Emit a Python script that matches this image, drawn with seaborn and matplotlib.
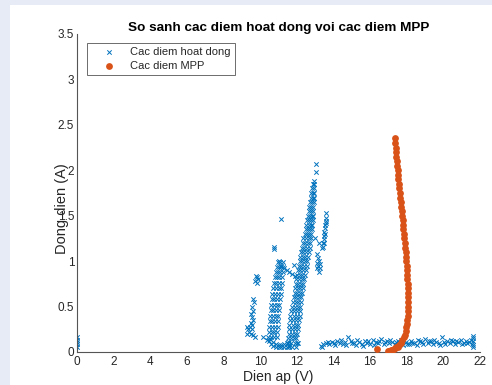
import matplotlib
matplotlib.use("Agg")
import matplotlib.pyplot as plt
import seaborn as sns
import pandas as pd
from matplotlib.patches import Rectangle

# ---------------- data ----------------
title = "So sanh cac diem hoat dong voi cac diem MPP"
xlabel = "Dien ap (V)"
ylabel = "Dong dien (A)"
label_op = "Cac diem hoat dong"
label_mpp = "Cac diem MPP"
xticks = [0, 2, 4, 6, 8, 10, 12, 14, 16, 18, 20, 22]
yticks = [0, 0.5, 1, 1.5, 2, 2.5, 3, 3.5]
ytick_labels = ["0", "0.5", "1", "1.5", "2", "2.5", "3", "3.5"]

# operating points, grouped by cluster
op_zero = [(0, 0.06), (0, 0.09), (0, 0.11), (0, 0.13), (0, 0.16)]

op_left_scatter = [(9.75, 0.84), (9.85, 0.82), (9.7, 0.78), (9.8, 0.76), (9.9, 0.8),
                   (9.6, 0.58), (9.65, 0.55), (9.55, 0.5), (9.6, 0.45), (9.5, 0.42),
                   (9.55, 0.38), (9.62, 0.35), (9.5, 0.32), (9.58, 0.3), (9.45, 0.27),
                   (9.35, 0.25), (9.4, 0.22), (9.3, 0.2), (9.5, 0.2), (9.6, 0.19),
                   (9.7, 0.17), (9.3, 0.28), (9.55, 0.25), (10.18, 0.17), (10.36, 0.13)]

op_left_arm = [(10.45, 0.16), (10.6, 0.16), (10.75, 0.16), (10.9, 0.16),
               (10.46, 0.22), (10.62, 0.22), (10.78, 0.22), (10.92, 0.22),
               (10.5, 0.28), (10.65, 0.28), (10.8, 0.28), (10.95, 0.28),
               (10.52, 0.34), (10.67, 0.34), (10.82, 0.34), (10.97, 0.34),
               (10.55, 0.40), (10.7, 0.40), (10.85, 0.40), (10.98, 0.40),
               (10.58, 0.46), (10.72, 0.46), (10.87, 0.46), (11.0, 0.46),
               (10.6, 0.52), (10.75, 0.52), (10.9, 0.52), (11.05, 0.52),
               (10.63, 0.58), (10.78, 0.58), (10.93, 0.58), (11.08, 0.58),
               (10.66, 0.64), (10.8, 0.64), (10.95, 0.64), (11.12, 0.64),
               (10.7, 0.70), (10.85, 0.70), (11.0, 0.70), (11.15, 0.70),
               (10.74, 0.76), (10.88, 0.76), (11.02, 0.76), (11.18, 0.76),
               (10.8, 0.82), (10.92, 0.82), (11.05, 0.82), (11.2, 0.82),
               (10.85, 0.88), (10.97, 0.88), (11.1, 0.88), (11.22, 0.88),
               (10.9, 0.94), (11.02, 0.94), (11.15, 0.94), (11.25, 0.94),
               (10.95, 0.99), (11.1, 0.99), (11.22, 0.99)]

op_u_bottom = [(10.5, 0.12), (10.6, 0.09), (10.7, 0.07), (10.85, 0.06), (11.0, 0.05),
               (11.15, 0.05), (11.3, 0.05), (11.45, 0.06), (11.6, 0.07),
               (10.55, 0.14), (10.7, 0.11), (10.85, 0.09), (11.0, 0.08), (11.15, 0.08),
               (11.3, 0.09), (11.45, 0.1), (11.6, 0.11), (12.08, 0.1)]

op_right_arm = [(11.55, 0.06), (11.75, 0.06), (11.95, 0.06),
                (11.5, 0.10), (11.7, 0.10), (11.88, 0.10), (12.0, 0.10),
                (11.5, 0.15), (11.68, 0.15), (11.85, 0.15), (11.98, 0.15),
                (11.55, 0.20), (11.72, 0.20), (11.88, 0.20), (12.02, 0.20),
                (11.58, 0.25), (11.75, 0.25), (11.9, 0.25), (12.05, 0.25),
                (11.6, 0.30), (11.78, 0.30), (11.95, 0.30), (12.08, 0.30),
                (11.62, 0.35), (11.8, 0.35), (11.97, 0.35), (12.12, 0.35),
                (11.65, 0.40), (11.83, 0.40), (12.0, 0.40), (12.15, 0.40),
                (11.7, 0.45), (11.87, 0.45), (12.02, 0.45), (12.18, 0.45),
                (11.75, 0.50), (11.9, 0.50), (12.05, 0.50), (12.2, 0.50),
                (11.8, 0.55), (11.95, 0.55), (12.08, 0.55), (12.22, 0.55),
                (11.85, 0.60), (11.98, 0.60), (12.12, 0.60), (12.25, 0.60),
                (11.88, 0.65), (12.02, 0.65), (12.15, 0.65), (12.28, 0.65),
                (11.9, 0.70), (12.05, 0.70), (12.2, 0.70), (12.32, 0.70),
                (11.95, 0.75), (12.08, 0.75), (12.22, 0.75), (12.36, 0.75),
                (11.98, 0.80), (12.12, 0.80), (12.26, 0.80), (12.4, 0.80),
                (12.0, 0.85), (12.15, 0.85), (12.3, 0.85), (12.45, 0.85),
                (12.05, 0.90), (12.2, 0.90), (12.34, 0.90), (12.5, 0.90),
                (12.1, 0.95), (12.24, 0.95), (12.38, 0.95), (12.55, 0.95),
                (12.15, 1.00), (12.28, 1.00), (12.42, 1.00), (12.58, 1.00),
                (12.2, 1.05), (12.32, 1.05), (12.46, 1.05), (12.62, 1.05),
                (12.25, 1.10), (12.36, 1.10), (12.5, 1.10), (12.66, 1.10),
                (12.28, 1.15), (12.4, 1.15), (12.55, 1.15), (12.7, 1.15),
                (12.32, 1.20), (12.45, 1.20), (12.6, 1.20), (12.74, 1.20),
                (12.36, 1.25), (12.5, 1.25), (12.64, 1.25), (12.78, 1.25),
                (12.42, 1.30), (12.55, 1.30), (12.68, 1.30), (12.8, 1.30),
                (12.48, 1.35), (12.6, 1.35), (12.72, 1.35), (12.82, 1.35),
                (12.52, 1.40), (12.64, 1.40), (12.76, 1.40), (12.85, 1.40),
                (12.56, 1.45), (12.68, 1.45), (12.8, 1.45), (12.87, 1.45),
                (12.6, 1.50), (12.72, 1.50), (12.83, 1.50), (12.9, 1.50),
                (12.64, 1.55), (12.76, 1.55), (12.86, 1.55),
                (12.68, 1.60), (12.8, 1.60), (12.9, 1.60),
                (12.72, 1.65), (12.83, 1.65), (12.92, 1.65),
                (12.76, 1.70), (12.86, 1.70), (12.94, 1.70),
                (12.8, 1.75), (12.89, 1.75), (12.95, 1.75),
                (12.84, 1.80), (12.92, 1.80),
                (12.88, 1.85), (12.95, 1.85), (12.92, 1.88)]

op_outliers = [(13.06, 2.07), (13.02, 1.98), (11.15, 1.46), (10.75, 1.16), (10.78, 1.13),
               (11.3, 0.92), (11.45, 0.9), (11.6, 0.88), (11.75, 0.86), (11.86, 0.96),
               (11.9, 0.84), (11.15, 0.95), (11.0, 1.0),
               (13.0, 1.26), (13.19, 1.2), (13.37, 1.15),
               (13.1, 1.08), (13.15, 1.04), (13.2, 1.0), (13.12, 0.98), (13.18, 0.95),
               (13.25, 0.92), (13.22, 0.88), (13.1, 0.93), (13.28, 0.97)]

op_streak = [(13.62, 1.53), (13.6, 1.48), (13.58, 1.44), (13.55, 1.4), (13.52, 1.36),
             (13.5, 1.32), (13.48, 1.28), (13.46, 1.24), (13.45, 1.2), (13.44, 1.16),
             (13.6, 1.42), (13.55, 1.3), (13.5, 1.2)]

op_band = [(13.3, 0.07), (13.45, 0.09), (13.6, 0.1), (13.75, 0.09), (13.9, 0.11),
           (14.05, 0.1), (14.2, 0.12), (14.35, 0.1), (14.5, 0.09), (14.65, 0.11),
           (14.8, 0.16), (14.95, 0.12), (15.1, 0.1), (15.25, 0.08), (15.4, 0.11),
           (15.55, 0.09), (15.7, 0.12), (15.85, 0.1), (16.0, 0.09), (16.15, 0.13),
           (16.3, 0.11), (16.45, 0.1), (16.6, 0.14), (16.75, 0.09), (16.9, 0.12),
           (17.05, 0.1), (17.2, 0.11), (17.35, 0.09), (17.5, 0.12), (17.65, 0.1),
           (17.8, 0.08), (17.95, 0.11), (18.1, 0.09), (18.25, 0.12), (18.4, 0.1),
           (18.55, 0.08), (18.7, 0.12), (18.85, 0.11), (19.0, 0.14), (19.15, 0.1),
           (19.3, 0.12), (19.45, 0.09), (19.6, 0.11), (19.75, 0.1), (19.9, 0.16),
           (20.05, 0.11), (20.2, 0.12), (20.35, 0.1), (20.5, 0.12), (20.65, 0.09),
           (20.8, 0.11), (20.95, 0.13), (21.1, 0.1), (21.25, 0.12), (21.4, 0.11),
           (21.55, 0.09), (21.6, 0.05), (21.6, 0.08), (21.6, 0.12), (21.6, 0.15),
           (21.6, 0.18),
           (13.4, 0.06), (13.7, 0.11), (14.1, 0.08), (14.4, 0.13), (14.7, 0.08),
           (15.0, 0.1), (15.3, 0.13), (15.6, 0.07), (15.9, 0.12), (16.2, 0.08),
           (16.5, 0.12), (16.8, 0.11), (17.1, 0.13), (17.4, 0.11), (17.7, 0.13),
           (18.0, 0.09), (18.3, 0.1), (18.6, 0.13), (18.9, 0.09), (19.2, 0.12),
           (19.5, 0.13), (19.8, 0.08), (20.1, 0.09), (20.4, 0.13), (20.7, 0.12),
           (21.0, 0.09), (21.3, 0.1), (21.5, 0.13)]

# MPP points
mpp = [(17.36, 2.36), (17.38, 2.30), (17.40, 2.25), (17.42, 2.20), (17.44, 2.15),
       (17.46, 2.10), (17.48, 2.05), (17.50, 2.00), (17.52, 1.95), (17.54, 1.90),
       (17.57, 1.85), (17.59, 1.80), (17.62, 1.75), (17.64, 1.70), (17.67, 1.65),
       (17.69, 1.60), (17.72, 1.55), (17.74, 1.50), (17.77, 1.45), (17.79, 1.40),
       (17.82, 1.35), (17.84, 1.30), (17.87, 1.25), (17.89, 1.20), (17.92, 1.15),
       (17.94, 1.10), (17.96, 1.05), (17.98, 1.00), (18.00, 0.95), (18.02, 0.90),
       (18.03, 0.85), (18.04, 0.80), (18.05, 0.75), (18.06, 0.70), (18.07, 0.65),
       (18.07, 0.60), (18.07, 0.55), (18.07, 0.50), (18.06, 0.45), (18.05, 0.40),
       (18.03, 0.35), (18.01, 0.31), (17.98, 0.27), (17.94, 0.23), (17.89, 0.19),
       (17.83, 0.16), (17.76, 0.13), (17.68, 0.10), (17.60, 0.08), (17.52, 0.06),
       (17.44, 0.05), (17.36, 0.04), (17.28, 0.03), (17.20, 0.02), (17.12, 0.02),
       (17.05, 0.015), (16.98, 0.015), (16.4, 0.03)]

# ---------------- plotting ----------------
sns.set_theme(style="white")
plt.rcParams["font.family"] = ["Liberation Sans", "DejaVu Sans"]

op_all = (op_zero + op_left_scatter + op_left_arm + op_u_bottom + op_right_arm
          + op_outliers + op_streak + op_band)
df_op = pd.DataFrame(op_all, columns=["V", "I"])
df_mpp = pd.DataFrame(mpp, columns=["V", "I"])

bg = "#E6EBF5"
fig = plt.figure(figsize=(4.92, 3.85), dpi=100, facecolor="white")
fig.patches.append(Rectangle((0, 0), 10 / 492, 1, transform=fig.transFigure,
                             facecolor=bg, edgecolor="none", zorder=-5))
fig.patches.append(Rectangle((0, 1 - 5 / 385), 1, 5 / 385, transform=fig.transFigure,
                             facecolor=bg, edgecolor="none", zorder=-5))
ax = fig.add_axes([77 / 492, 33 / 385, 403 / 492, 318 / 385])
ax.set_facecolor("white")

blue = "#0072BD"
orange = "#D95319"

sns.scatterplot(data=df_op, x="V", y="I", ax=ax, marker="x", color=blue,
                s=10, linewidth=0.7, label=label_op, zorder=2)
sns.scatterplot(data=df_mpp, x="V", y="I", ax=ax, marker="o", color=orange,
                s=24, linewidth=0, label=label_mpp, zorder=3)

ax.set_xlim(0, 22)
ax.set_ylim(0, 3.5)
ax.set_xticks(xticks)
ax.set_xticklabels([str(t) for t in xticks])
ax.set_yticks(yticks)
ax.set_yticklabels(ytick_labels)

grey = "#262626"
for side in ["top", "right"]:
    ax.spines[side].set_visible(False)
for side in ["left", "bottom"]:
    ax.spines[side].set_color("#555555")
    ax.spines[side].set_linewidth(0.8)
ax.tick_params(axis="both", direction="in", length=4, width=0.8, color="#555555",
               labelsize=8.5, labelcolor=grey)
ax.tick_params(axis="x", pad=3)
ax.tick_params(axis="y", pad=2)

ax.set_title(title, fontsize=9.7, fontweight="bold", color="black", pad=2.5)
ax.set_xlabel(xlabel, fontsize=10, color=grey)
ax.set_ylabel(ylabel, fontsize=10.5, color=grey)
ax.xaxis.set_label_coords(0.5, -0.056)
ax.yaxis.set_label_coords(-0.02, 0.45)

leg = ax.legend(loc="upper left", bbox_to_anchor=(0.025, 0.972), borderaxespad=0,
                fontsize=8, frameon=True, fancybox=False, handletextpad=0.3,
                borderpad=0.4, labelspacing=0.3, handlelength=3.2)
leg.get_frame().set_edgecolor("#555555")
leg.get_frame().set_linewidth(0.6)
leg.get_frame().set_facecolor("white")
leg.get_frame().set_alpha(1)
for t in leg.get_texts():
    t.set_color(grey)

fig.savefig("out.png", dpi=100, facecolor=fig.get_facecolor())
